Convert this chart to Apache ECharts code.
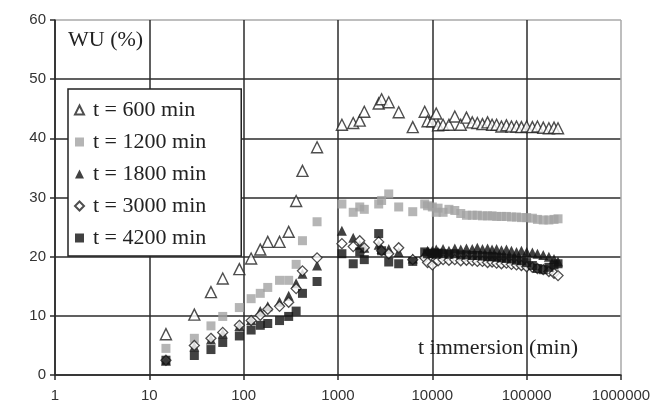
<!DOCTYPE html>
<html>
<head>
<meta charset="utf-8">
<script src="https://cdn.jsdelivr.net/npm/echarts@6/dist/echarts.min.js"></script>
<style>
  html, body { margin: 0; padding: 0; background: #fff; }
  #chart { width: 658px; height: 403px; }
</style>
</head>
<body>
<div id="chart"></div>
<script>
// Immersion times (min) at which water uptake was weighed
const times = [15, 30, 45, 60, 90, 120, 150, 180, 240, 300, 360, 420, 600,
  1100, 1450, 1700, 1900, 2700, 2900, 3450, 4400, 6200, 8300, 8900, 10000,
  11000, 11500, 13000, 15000, 17300, 20000, 23000, 26500, 30000, 34000, 38500,
  43000, 48000, 54000, 61000, 69000, 78000, 88000, 100000, 115000, 130000,
  150000, 172000, 195000, 215000];

// Water uptake WU (%) for each curing time
const wu600 = [6.9, 10.2, 14.0, 16.3, 17.9, 19.7, 21.2, 22.5, 22.5, 24.2, 29.4, 34.5, 38.5,
  42.3, 42.6, 43.0, 44.5, 45.9, 46.6, 46.1, 44.4, 41.9, 44.5, 42.9, 42.9,
  44.2, 42.2, 42.3, 42.3, 43.7, 42.3, 43.5, 42.7, 42.6, 42.4, 42.7,
  42.3, 42.3, 42.0, 42.2, 42.0, 42.0, 41.9, 42.0, 41.9, 42.0,
  41.8, 41.7, 41.8, 41.7];
const wu1200 = [4.5, 6.2, 8.3, 9.9, 11.4, 12.9, 13.8, 14.8, 16.0, 16.0, 18.7, 22.7, 25.9,
  28.9, 27.5, 28.4, 28.0, 28.9, 29.5, 30.6, 28.4, 27.6, 28.9, 28.6, 28.4,
  27.5, 28.2, 27.5, 28.0, 27.8, 27.3, 27.0, 27.0, 27.0, 26.9, 26.9,
  26.9, 26.8, 26.8, 26.8, 26.7, 26.7, 26.6, 26.6, 26.5, 26.3,
  26.2, 26.2, 26.3, 26.4];
const wu1800 = [2.4, 4.8, 6.0, 7.0, 8.3, 9.3, 10.8, 11.6, 12.4, 13.4, 15.5, 17.1, 18.5,
  24.4, 23.2, 22.0, 21.5, 22.0, 21.3, 21.3, 20.8, 19.7, 20.5, 21.0, 21.0,
  21.2, 20.8, 21.3, 21.0, 21.4, 21.2, 21.4, 21.3, 21.5, 21.3, 21.4,
  21.2, 21.3, 21.1, 21.2, 21.0, 20.8, 21.0, 20.8, 20.7, 20.5,
  20.3, 20.0, 19.6, 19.2];
const wu3000 = [2.5, 5.0, 6.2, 7.2, 8.4, 9.2, 10.1, 11.1, 11.6, 12.3, 14.6, 17.6, 19.8,
  22.2, 21.7, 22.7, 21.5, 22.5, 21.0, 20.5, 21.5, 19.5, 19.8, 19.0, 18.6,
  19.5, 19.3, 19.5, 19.4, 19.5, 19.3, 19.4, 19.3, 19.2, 19.2, 19.0,
  19.1, 18.9, 18.8, 18.9, 18.7, 18.6, 18.5, 18.3, 18.2, 18.0,
  17.8, 17.5, 17.2, 16.8];
const wu4200 = [2.5, 3.3, 4.3, 5.5, 6.6, 7.6, 8.4, 8.7, 9.2, 9.9, 10.8, 13.8, 15.8,
  20.5, 18.8, 20.8, 19.5, 23.9, 21.0, 19.1, 18.8, 19.2, 20.8, 20.5, 20.6,
  20.4, 20.6, 20.5, 20.4, 20.5, 20.3, 20.3, 20.2, 20.2, 20.1, 20.0,
  20.0, 19.9, 19.8, 19.7, 19.6, 19.4, 19.3, 19.0, 18.5, 18.0,
  17.8, 18.2, 18.6, 18.8];

const seriesNames = ['t = 600 min', 't = 1200 min', 't = 1800 min', 't = 3000 min', 't = 4200 min'];
const xTickLabels = ['1', '10', '100', '1000', '10000', '100000', '1000000'];
const yTicks = [0, 10, 20, 30, 40, 50, 60];

const pairs = vals => times.map((t, i) => [t, vals[i]]);

const serif = '"Liberation Serif", "DejaVu Serif", serif';
const sans = '"Liberation Sans", Arial, sans-serif';
const grid = '#2b2b2b';
const frame = '#a8a8a8';

const markers = [
  { data: wu600, symbol: 'triangle', size: 11, style: { color: '#fff', borderColor: '#222', borderWidth: 1.4 } },
  { data: wu1200, symbol: 'rect', size: 9, style: { color: '#a3a3a3' } },
  { data: wu1800, symbol: 'triangle', size: 10, style: { color: '#111' } },
  { data: wu3000, symbol: 'diamond', size: 10, style: { color: '#fff', borderColor: '#222', borderWidth: 1.3 } },
  { data: wu4200, symbol: 'rect', size: 9, style: { color: '#111' } }
];

const chart = echarts.init(document.getElementById('chart'), null, { renderer: 'canvas' });

chart.setOption({
  animation: false,
  backgroundColor: '#fff',
  grid: { left: 55, right: 37, top: 20, bottom: 26 },
  xAxis: {
    type: 'log',
    logBase: 10,
    min: 1,
    max: 1000000,
    axisLine: { show: true, lineStyle: { color: grid, width: 1.5 } },
    axisTick: { show: true, inside: false, length: 5, lineStyle: { color: grid, width: 1.5 } },
    minorTick: { show: false },
    axisLabel: {
      margin: 13,
      fontFamily: sans,
      fontSize: 15,
      color: '#333',
      formatter: v => xTickLabels[Math.round(Math.log10(v))]
    },
    splitLine: { show: true, lineStyle: { color: [grid, grid, grid, grid, grid, grid, frame], width: 1.5 } },
    name: 't immersion (min)',
    nameLocation: 'end',
    nameGap: 0,
    nameTextStyle: { fontFamily: serif, fontSize: 22, color: '#222', align: 'right', verticalAlign: 'bottom',
      padding: [0, 43, 16, 0] }
  },
  yAxis: {
    type: 'value',
    min: 0,
    max: 60,
    interval: 10,
    axisLine: { show: true, lineStyle: { color: grid, width: 1.5 } },
    axisTick: { show: true, inside: false, length: 5, lineStyle: { color: grid, width: 1.5 } },
    axisLabel: {
      margin: 9,
      fontFamily: sans,
      fontSize: 15,
      color: '#333',
      formatter: v => String(yTicks[Math.round(v / 10)])
    },
    splitLine: { show: true, lineStyle: { color: [grid, grid, grid, grid, grid, grid, frame], width: 1.5 } }
  },
  legend: {
    orient: 'vertical',
    left: 68,
    top: 89,
    backgroundColor: '#fff',
    borderColor: '#222',
    borderWidth: 1.5,
    padding: [10, 35, 7, 6],
    itemGap: 10,
    itemWidth: 9,
    itemHeight: 9,
    textStyle: { fontFamily: serif, fontSize: 22, color: '#222', padding: [0, 0, 0, 4] },
    data: seriesNames.map((n, i) => ({ name: n, icon: markers[i].symbol }))
  },
  graphic: [{
    type: 'text',
    left: 68,
    top: 29,
    style: { text: 'WU (%)', font: '22px ' + serif, fill: '#222' }
  }],
  series: markers.map((m, i) => ({
    name: seriesNames[i],
    type: 'scatter',
    symbol: m.symbol,
    symbolSize: m.size,
    itemStyle: m.style,
    data: pairs(m.data),
    z: 3 + i
  }))
});
</script>
</body>
</html>
